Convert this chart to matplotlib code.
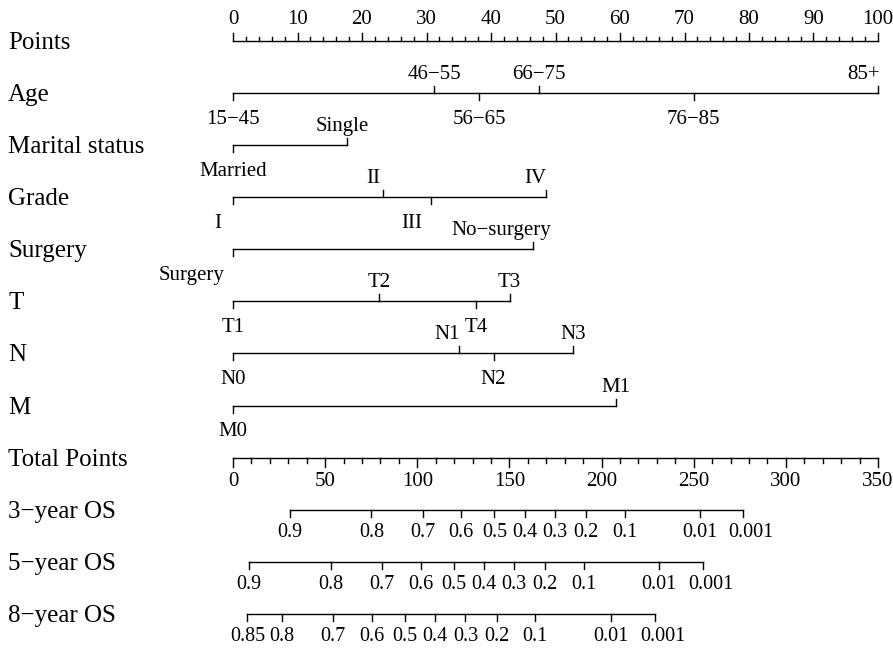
import numpy as np
import matplotlib.pyplot as plt

plt.rcParams["font.family"] = ["Liberation Serif", "DejaVu Serif"]

# row labels
row_names = ["Points", "Age", "Marital status", "Grade", "Surgery", "T", "N", "M",
             "Total Points", "3\u2212year OS", "5\u2212year OS", "8\u2212year OS"]

# predictor levels and their points (0-100 scale)
age_levels = ["15\u221245", "46\u221255", "56\u221265", "66\u221275", "76\u221285", "85+"]
age_points = [0, 31.2, 38.2, 47.4, 71.4, 100]
marital_levels = ["Married", "Single"]
marital_points = [0, 17.7]
grade_levels = ["I", "II", "III", "IV"]
grade_points = [0, 23.2, 30.7, 48.5]
surgery_levels = ["Surgery", "No\u2212surgery"]
surgery_points = [0, 46.5]
t_levels = ["T1", "T2", "T4", "T3"]
t_points = [0, 22.6, 37.7, 42.9]
n_levels = ["N0", "N1", "N2", "N3"]
n_points = [0, 35.0, 40.4, 52.7]
m_levels = ["M0", "M1"]
m_points = [0, 59.4]

# survival probability scales (positions in total points)
os_labels = ["0.9", "0.8", "0.7", "0.6", "0.5", "0.4", "0.3", "0.2", "0.1", "0.01", "0.001"]
os3_total = [30.9, 75.1, 102.9, 123.9, 141.8, 158.3, 174.5, 191.5, 212.5, 253.4, 276.9]
os5_total = [8.7, 53.2, 80.8, 101.8, 119.7, 136.2, 152.5, 169.5, 190.5, 231.3, 255.2]
os8_labels = ["0.85", "0.8", "0.7", "0.6", "0.5", "0.4", "0.3", "0.2", "0.1", "0.01", "0.001"]
os8_total = [7.8, 26.6, 54.3, 75.4, 93.2, 109.6, 126.1, 143.1, 164.0, 205.1, 229.0]

points_max = 100
total_max = 350

# layout (pixel units on the y axis)
W, H = 893, 652
x0_px, x1_px = 233, 878
row_y = [40.8 + 52.1 * i for i in range(len(row_names))]
lw = 1.0
tick_fs = 15
surv_fs = 14.5
label_fs = 18
# horizontal nudges of some labels, in pixels (as placed in the reference)
label_shift = {"85+": -14, "Single": -5, "I": -15, "II": -9, "III": -19, "IV": -11,
               "Surgery": -41, "No\u2212surgery": -32, "N1": -12}
surv_shift = {"0.001": 8}


def main():
    fig = plt.figure(figsize=(W / 100, H / 100), dpi=100)
    ax = fig.add_axes([0, 0, 1, 1])
    ppx = (x1_px - x0_px) / points_max
    ax.set_xlim(-x0_px / ppx, (W - x0_px) / ppx)
    ax.set_ylim(H, 0)
    ax.axis("off")

    label_x = (8 - x0_px) / ppx
    for name, y in zip(row_names, row_y):
        ax.text(label_x, y + 2, name, fontsize=label_fs, ha="left", va="center")

    # Points axis
    y = row_y[0]
    ax.plot([0, points_max], [y, y], color="black", lw=lw)
    for v in np.arange(0, points_max + 1, 2):
        major = v % 10 == 0
        ax.plot([v, v], [y, y - (8 if major else 4)], color="black", lw=lw)
        if major:
            ax.text(v, y - 17, str(int(v)), fontsize=tick_fs, ha="center", va="baseline")

    # predictor axes
    predictors = [
        (age_levels, age_points),
        (marital_levels, marital_points),
        (grade_levels, grade_points),
        (surgery_levels, surgery_points),
        (t_levels, t_points),
        (n_levels, n_points),
        (m_levels, m_points),
    ]
    for i, (levels, pts) in enumerate(predictors):
        y = row_y[i + 1]
        ax.plot([min(pts), max(pts)], [y, y], color="black", lw=lw)
        for k, (lab, p) in enumerate(zip(levels, pts)):
            tx = p + label_shift.get(lab, 0) / ppx
            if k % 2 == 0:
                ax.plot([p, p], [y, y + 7], color="black", lw=lw)
                ax.text(tx, y + 31, lab, fontsize=tick_fs, ha="center", va="baseline")
            else:
                ax.plot([p, p], [y, y - 7], color="black", lw=lw)
                ax.text(tx, y - 14, lab, fontsize=tick_fs, ha="center", va="baseline")

    # Total points axis
    scale = points_max / total_max
    y = row_y[8]
    ax.plot([0, total_max * scale], [y, y], color="black", lw=lw)
    for v in np.arange(0, total_max + 1, 10):
        major = v % 50 == 0
        ax.plot([v * scale, v * scale], [y, y + (9 if major else 5)], color="black", lw=lw)
        if major:
            ax.text(v * scale, y + 28, str(int(v)), fontsize=tick_fs, ha="center", va="baseline")

    # survival axes
    surv = [(os_labels, os3_total), (os_labels, os5_total), (os8_labels, os8_total)]
    for i, (labs, tot) in enumerate(surv):
        y = row_y[9 + i]
        xs = [t * scale for t in tot]
        ax.plot([xs[0], xs[-1]], [y, y], color="black", lw=lw)
        for lab, xv in zip(labs, xs):
            ax.plot([xv, xv], [y, y + 7], color="black", lw=lw)
            ax.text(xv + surv_shift.get(lab, 0) / ppx, y + 27, lab, fontsize=surv_fs,
                    ha="center", va="baseline")

    fig.savefig("out.png", dpi=100)


if __name__ == "__main__":
    main()
